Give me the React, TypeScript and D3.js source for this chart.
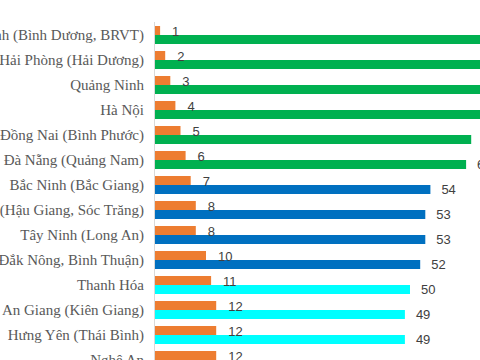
//@ts-nocheck
import { useEffect, useRef } from 'react';
import * as d3 from 'd3';

// categories (top to bottom)
const provinces = [
    'TP Hồ Chí Minh (Bình Dương, BRVT)',
    'Hải Phòng (Hải Dương)',
    'Quảng Ninh',
    'Hà Nội',
    'Đồng Nai (Bình Phước)',
    'Đà Nẵng (Quảng Nam)',
    'Bắc Ninh (Bắc Giang)',
    'Cần Thơ (Hậu Giang, Sóc Trăng)',
    'Tây Ninh (Long An)',
    'Lâm Đồng (Đắk Nông, Bình Thuận)',
    'Thanh Hóa',
    'An Giang (Kiên Giang)',
    'Hưng Yên (Thái Bình)',
    'Nghệ An',
];

// rank (orange bars)
const ranks = [1, 2, 3, 4, 5, 6, 7, 8, 8, 10, 11, 12, 12, 12];

// score (second bar)
const scores = [69, 67, 65, 64, 62, 61, 54, 53, 53, 52, 50, 49, 49, 48];

// group of each row -> bar colour
const groups = ['g', 'g', 'g', 'g', 'g', 'g', 'b', 'b', 'b', 'b', 'c', 'c', 'c', 'c'];

const groupColor = { g: '#00B050', b: '#0070C0', c: '#00FFFF' };

const App = () => {
    const svgRef = useRef();

    useEffect(() => {
        const svg = d3.select(svgRef.current);
        svg.selectAll('*').remove();

        const rows = provinces.map((name, i) => ({
            name,
            rank: ranks[i],
            score: scores[i],
            group: groups[i],
        }));

        const x = d3.scaleLinear().domain([0, 60]).range([155, 461]);

        const y = d3.scaleBand()
            .domain(provinces)
            .range([22.5, 372.5])
            .paddingInner(0.28)
            .paddingOuter(0.14);

        const sub = d3.scaleBand().domain(['rank', 'score']).range([0, y.bandwidth()]);

        // category labels (left side is cropped, as in the source picture)
        svg.append('g')
            .selectAll('text')
            .data(rows)
            .enter()
            .append('text')
            .attr('x', 144)
            .attr('y', d => y(d.name) + y.bandwidth() / 2)
            .attr('dy', '0.32em')
            .attr('text-anchor', 'end')
            .style('font-family', '"Liberation Serif", serif')
            .style('font-size', '15px')
            .style('fill', '#595959')
            .text(d => d.name);

        const g = svg.append('g');

        // rank bars
        g.selectAll('.rank')
            .data(rows)
            .enter()
            .append('rect')
            .attr('class', 'rank')
            .attr('x', x(0))
            .attr('y', d => y(d.name) + sub('rank'))
            .attr('width', d => x(d.rank) - x(0))
            .attr('height', sub.bandwidth())
            .attr('fill', '#ED7D31');

        // score bars
        g.selectAll('.score')
            .data(rows)
            .enter()
            .append('rect')
            .attr('class', 'score')
            .attr('x', x(0))
            .attr('y', d => y(d.name) + sub('score'))
            .attr('width', d => x(d.score) - x(0))
            .attr('height', sub.bandwidth())
            .attr('fill', d => groupColor[d.group]);

        // axis line
        svg.append('line')
            .attr('x1', x(0) - 0.5)
            .attr('x2', x(0) - 0.5)
            .attr('y1', 22)
            .attr('y2', 360)
            .attr('stroke', '#d9d9d9');

        const labelStyle = (sel) => sel
            .attr('dy', '0.35em')
            .style('font-family', '"Liberation Sans", Arial, sans-serif')
            .style('font-size', '13px')
            .style('fill', '#404040');

        // rank labels
        g.selectAll('.rank-label')
            .data(rows)
            .enter()
            .append('text')
            .attr('class', 'rank-label')
            .attr('x', d => x(d.rank) + 12)
            .attr('y', d => y(d.name) + sub('rank') + sub.bandwidth() / 2 + 1)
            .call(labelStyle)
            .text(d => d.rank);

        // score labels
        g.selectAll('.score-label')
            .data(rows)
            .enter()
            .append('text')
            .attr('class', 'score-label')
            .attr('x', d => x(d.score) + 11)
            .attr('y', d => y(d.name) + sub('score') + sub.bandwidth() / 2)
            .call(labelStyle)
            .text(d => d.score);
    }, []);

    return (
        <svg
            ref={svgRef}
            width={480}
            height={360}
            style={{ position: 'fixed', left: 0, top: 0, background: '#fff' }}
        ></svg>
    );
};

export default App;
